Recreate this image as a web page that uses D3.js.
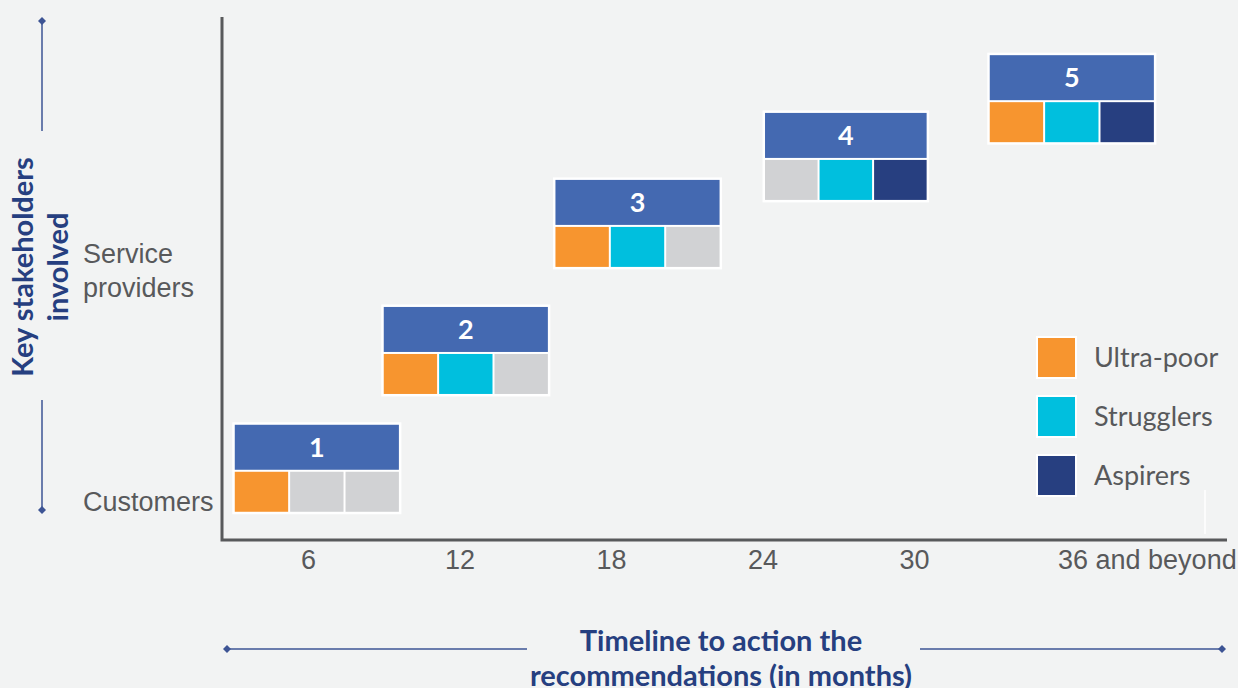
<!DOCTYPE html>
<html>
<head>
<meta charset="utf-8">
<title>Timeline to action the recommendations</title>
<style>
  body { margin: 0; background: #f2f3f3; }
  svg { display: block; font-family: Lato, "Open Sans", sans-serif; }
  .lbl { fill: #58595b; font-size: 27px; }
  .ttl { fill: #263f80; font-size: 29px; font-weight: bold; }
</style>
</head>
<body>
<svg width="1238" height="688"></svg>
<script src="https://d3js.org/d3.v7.min.js"></script>
<script>
// tick labels on the timeline (months)
var months = [6, 12, 18, 24, 30, 36];
var monthLabels = ["6", "12", "18", "24", "30", "36 and beyond"];

// y axis categories: 0 = Customers, 1 = Service providers
var stakeholders = ["Customers", "Service providers"];

// the five phases: start/end in months, vertical level on stakeholder axis (top of block)
var phases = ["1", "2", "3", "4", "5"];
var phaseStart = [3.1, 9.0, 15.8, 24.1, 33.0];
var phaseEnd = [9.6, 15.5, 22.3, 30.5, 39.5];
var phaseLevel = [0.33, 0.84, 1.39, 1.68, 1.93];

// segments targeted in each phase (null = not targeted, grey cell)
var segments = ["Ultra-poor", "Strugglers", "Aspirers"];
var phaseCells = [
  ["Ultra-poor", null, null],
  ["Ultra-poor", "Strugglers", null],
  ["Ultra-poor", "Strugglers", null],
  [null, "Strugglers", "Aspirers"],
  ["Ultra-poor", "Strugglers", "Aspirers"]
];

var segColor = d3.scaleOrdinal()
  .domain(segments)
  .range(["#f7952f", "#00bfde", "#273f80"]);
var emptyColor = "#d1d2d4";
var headerColor = "#4469b1";

var svg = d3.select("svg");
var plot = {left: 222, top: 17, right: 1227, bottom: 540};

var x = d3.scaleLinear().domain([6, 30]).range([308, 914]);
var y = d3.scaleLinear().domain([0, 1]).range([501, 270]);

// x axis labels
var xAxis = svg.append("g")
  .attr("transform", "translate(0," + plot.bottom + ")")
  .call(d3.axisBottom(x).tickValues(months).tickSize(0)
    .tickFormat(function(d, i) { return monthLabels[i]; }));
xAxis.select(".domain").remove();
xAxis.selectAll("text")
  .attr("class", "lbl")
  .attr("font-family", null).attr("font-size", null).attr("fill", null)
  .attr("y", 10)
  .attr("dy", "0.71em");
xAxis.selectAll(".tick:last-of-type text")
  .attr("text-anchor", "start")
  .attr("dx", -8);

// y axis labels
var yAxis = svg.append("g")
  .attr("transform", "translate(83,0)")
  .call(d3.axisLeft(y).tickValues([0, 1]).tickSize(0)
    .tickFormat(function(d) { return stakeholders[d]; }));
yAxis.select(".domain").remove();
yAxis.selectAll("text").each(function(d) {
  var t = d3.select(this)
    .attr("class", "lbl")
    .attr("font-family", null).attr("font-size", null).attr("fill", null)
    .attr("text-anchor", "start")
    .attr("x", 0).attr("dy", null)
    .text(null);
  var words = stakeholders[d].split(" ");
  words.forEach(function(w, i) {
    t.append("tspan")
      .attr("x", 0)
      .attr("dy", i == 0 ? ((0.35 - (words.length - 1) * 0.63) + "em") : "1.26em")
      .text(w);
  });
});

// plot frame (left + bottom)
svg.append("path")
  .attr("d", "M" + plot.left + "," + plot.top + "V" + plot.bottom + "H" + plot.right)
  .attr("fill", "none")
  .attr("stroke", "#58595b")
  .attr("stroke-width", 3);

svg.append("line")
  .attr("x1", 1205).attr("x2", 1205).attr("y1", 490).attr("y2", 534)
  .attr("stroke", "#fff").attr("stroke-width", 1.5);

// phase blocks
var headerH = 45, gap = 2, cellH = 40;
var blocks = svg.append("g").selectAll("g")
  .data(phases)
  .enter().append("g")
    .attr("transform", function(d, i) {
      return "translate(" + x(phaseStart[i]) + "," + y(phaseLevel[i]) + ")";
    });

blocks.append("rect")
  .attr("x", -2.5).attr("y", -2.5)
  .attr("width", function(d, i) { return x(phaseEnd[i]) - x(phaseStart[i]) + 5; })
  .attr("height", headerH + gap + cellH + 5)
  .attr("fill", "#fff");

blocks.append("rect")
  .attr("width", function(d, i) { return x(phaseEnd[i]) - x(phaseStart[i]); })
  .attr("height", headerH)
  .attr("fill", headerColor);

blocks.append("text")
  .attr("x", function(d, i) { return (x(phaseEnd[i]) - x(phaseStart[i])) / 2; })
  .attr("y", headerH / 2)
  .attr("dy", "0.36em")
  .attr("text-anchor", "middle")
  .attr("fill", "#fff")
  .attr("font-size", 27)
  .attr("font-weight", "bold")
  .text(function(d) { return d; });

blocks.each(function(d, i) {
  var w = x(phaseEnd[i]) - x(phaseStart[i]);
  var cw = (w - 2 * gap) / 3;
  d3.select(this).selectAll(".cell")
    .data(phaseCells[i])
    .enter().append("rect")
      .attr("class", "cell")
      .attr("x", function(c, j) { return j * (cw + gap); })
      .attr("y", headerH + gap)
      .attr("width", cw)
      .attr("height", cellH)
      .attr("fill", function(c) { return c ? segColor(c) : emptyColor; });
});

// legend
var legend = svg.append("g")
  .selectAll("g")
  .data(segments)
  .enter().append("g")
    .attr("transform", function(d, i) { return "translate(1038," + (338 + i * 59) + ")"; });

legend.append("rect")
  .attr("x", -2).attr("y", -2).attr("width", 41).attr("height", 43)
  .attr("fill", "#fff");
legend.append("rect")
  .attr("width", 37).attr("height", 39)
  .attr("fill", segColor);
legend.append("text")
  .attr("class", "lbl")
  .attr("x", 56)
  .attr("y", 19.5)
  .attr("dy", "0.36em")
  .text(function(d) { return d; });

// decorative arrows with diamond ends
var deco = "#3d5494";
function diamond(cx, cy) {
  svg.append("path")
    .attr("d", "M" + cx + "," + (cy - 4) + "l4,4l-4,4l-4,-4z")
    .attr("fill", deco);
}
svg.append("line").attr("x1", 42).attr("x2", 42).attr("y1", 21).attr("y2", 131)
  .attr("stroke", deco).attr("stroke-width", 1.5);
svg.append("line").attr("x1", 42).attr("x2", 42).attr("y1", 400).attr("y2", 510)
  .attr("stroke", deco).attr("stroke-width", 1.5);
diamond(42, 21); diamond(42, 510);

svg.append("line").attr("x1", 227).attr("x2", 527).attr("y1", 649).attr("y2", 649)
  .attr("stroke", deco).attr("stroke-width", 1.5);
svg.append("line").attr("x1", 920).attr("x2", 1222).attr("y1", 649).attr("y2", 649)
  .attr("stroke", deco).attr("stroke-width", 1.5);
diamond(227, 649); diamond(1222, 649);

// axis titles
var xt = svg.append("text")
  .attr("class", "ttl")
  .attr("text-anchor", "middle")
  .attr("transform", "translate(721,641)");
xt.append("tspan").attr("x", 0).attr("dy", "0.36em").text("Timeline to action the");
xt.append("tspan").attr("x", 0).attr("dy", "1.18em").text("recommendations (in months)");

var yt = svg.append("text")
  .attr("class", "ttl")
  .attr("text-anchor", "middle")
  .attr("transform", "translate(40,267) rotate(-90)");
yt.append("tspan").attr("x", 0).attr("y", -17).attr("dy", "0.36em").text("Key stakeholders");
yt.append("tspan").attr("x", 0).attr("y", 18).attr("dy", "0.36em").text("involved");
</script>
</body>
</html>
